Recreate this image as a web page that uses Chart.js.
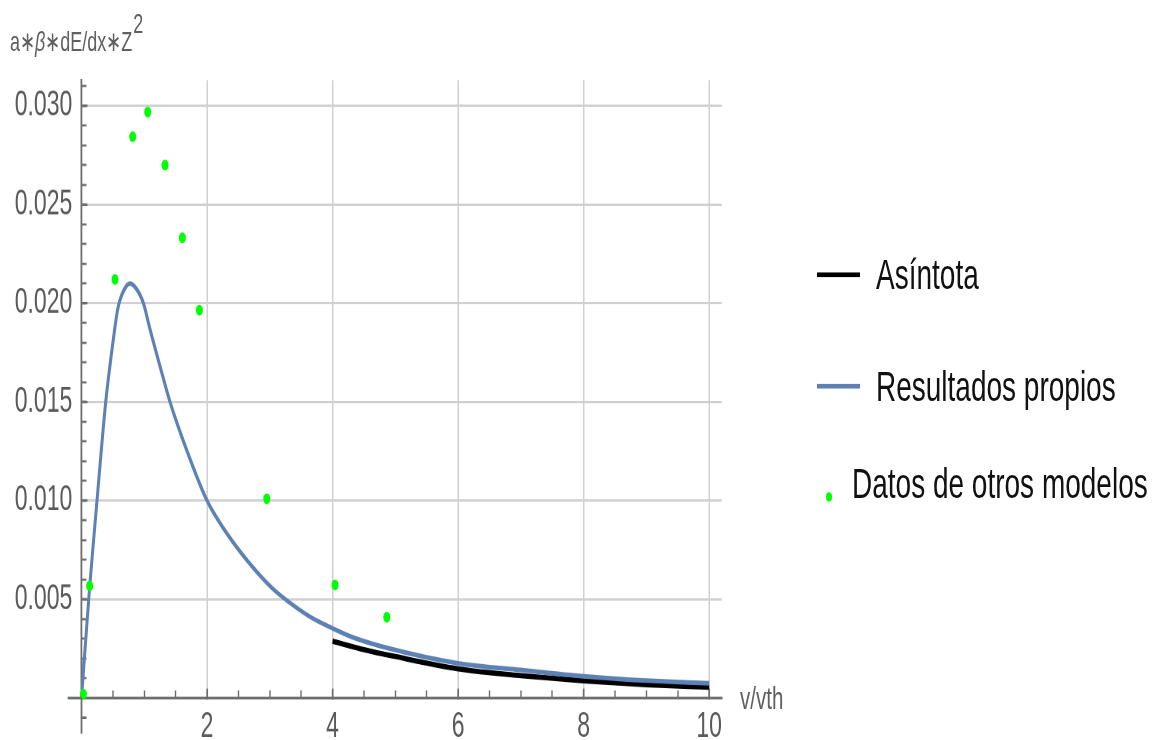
<!DOCTYPE html>
<html>
<head>
<meta charset="utf-8">
<script src="https://cdn.jsdelivr.net/npm/chart.js"></script>
<style>
  html, body { margin: 0; background: #fff; width: 1160px; height: 740px; }
  #aussen { position: relative; width: 1160px; height: 740px; overflow: hidden; }
  /* the reference picture is stretched vertically, so the whole drawing is too */
  #wrap { position: absolute; left: 0; top: 0; width: 1160px; height: 478px; transform: scaleY(1.548); transform-origin: 0 0; font-family: 'Liberation Sans', Arial, sans-serif; }
  #grafik { position: absolute; left: 0; top: 0; }
  .achse { position: absolute; color: #606060; white-space: nowrap; }
  .legende { position: absolute; left: 817px; font-size: 28px; line-height: 32px; color: #111; white-space: nowrap; }
  .legende span.linie { display: inline-block; width: 43px; height: 3px; vertical-align: middle; margin-right: 16px; position: relative; top: -2px; }
  .legende span.punkt { display: inline-block; width: 6px; height: 6px; border-radius: 50%; background: #00ff00; margin: 0 20px 0 9px; position: relative; top: 6px; vertical-align: middle; }
</style>
</head>
<body>
<div id="aussen">
<div id="wrap">
  <canvas id="grafik" width="1160" height="478"></canvas>
  <div class="achse" style="left:10px; top:17px; font-size:18px; line-height:20px;">a∗<i>β</i>∗dE/dx∗Z<span style="position:relative; top:-12px; font-size:18px; margin-left:1px;">2</span></div>
  <div class="achse" style="left:740px; top:441px; font-size:20.5px; line-height:20px;">v/vth</div>
  <div class="legende" style="top:162px;"><span class="linie" style="background:#000;"></span>Asíntota</div>
  <div class="legende" style="top:234px;"><span class="linie" style="background:#5E81B5;"></span>Resultados propios</div>
  <div class="legende" style="top:297px;"><span class="punkt"></span>Datos de otros modelos</div>
</div>
</div>
<script>
// Eigene Resultate (blaue Kurve)
const propiosX = [0, 0.115, 0.247, 0.386, 0.46, 0.534, 0.577, 0.667, 0.774, 0.88, 0.986, 1.09, 1.26, 1.41, 1.73, 2.0, 2.26, 2.53, 2.79, 3.06, 3.33, 3.65, 4.0, 4.3, 4.89, 6.0, 7.0, 8.0, 9.0, 10.0];
const propiosY = [0, 0.005, 0.010, 0.015, 0.0170, 0.0188, 0.0197, 0.0206, 0.0210, 0.0207, 0.0200, 0.0187, 0.0167, 0.0150, 0.0121, 0.0100, 0.0086, 0.0074, 0.0064, 0.0055, 0.0048, 0.0041, 0.00353, 0.0031, 0.00252, 0.00176, 0.00142, 0.0011, 0.00088, 0.00075];

// Asymptote (schwarz), nur ab v/vth = 4
const asintotaX = [4.0, 4.5, 5.0, 6.0, 7.0, 8.0, 9.0, 10.0];
const asintotaY = [0.00288, 0.00245, 0.0021, 0.00148, 0.00113, 0.00087, 0.00067, 0.00055];

// Daten anderer Modelle (grüne Punkte)
const otrosX = [0.03, 0.13, 0.534, 0.816, 1.055, 1.331, 1.607, 1.878, 2.952, 4.04, 4.864];
const otrosY = [0.0002, 0.00568, 0.0212, 0.02843, 0.02968, 0.02699, 0.02331, 0.01964, 0.01009, 0.00573, 0.00409];

// Achsen
const xMajorTicks = [2, 4, 6, 8, 10];
const xMinorTicks = [0.5, 1, 1.5, 2, 2.5, 3, 3.5, 4, 4.5, 5, 5.5, 6, 6.5, 7, 7.5, 8, 8.5, 9, 9.5, 10];
const yMajorTicks = [0.005, 0.010, 0.015, 0.020, 0.025, 0.030];
const yMinorTicks = [0.001, 0.002, 0.003, 0.004, 0.005, 0.006, 0.007, 0.008, 0.009, 0.010, 0.011, 0.012, 0.013, 0.014, 0.015, 0.016, 0.017, 0.018, 0.019, 0.020, 0.021, 0.022, 0.023, 0.024, 0.025, 0.026, 0.027, 0.028, 0.029, 0.030, 0.031];
const xMin = 0, xMax = 10.2, yMin = 0, yMax = 0.0313;
const xAxisFrom = -0.22;   // Achse ragt links etwas über 0 hinaus
const yAxisFrom = -0.0018; // und unten auch

const axisColor = '#6e6e6e';
const gridColor = '#d0d0d0';
const tickFont = { family: "'Liberation Sans', Arial, sans-serif", size: 23 };

function toPoints(xs, ys) {
    return xs.map((x, i) => ({ x: x, y: ys[i] }));
}

function fixedTicks(list) {
    return scale => { scale.ticks = list.map(v => ({ value: v })); };
}

// kleines Stück Achse unterhalb/links vom Ursprung
const axisStubs = {
    id: 'axisStubs',
    afterDraw(chart) {
        const { ctx, scales } = chart;
        const x0 = scales.x.getPixelForValue(0);
        const y0 = scales.y.getPixelForValue(0);
        const yt = scales.y.getPixelForValue(-0.001);
        ctx.save();
        ctx.strokeStyle = axisColor;
        ctx.lineWidth = 1.8;
        ctx.beginPath();
        ctx.moveTo(scales.x.getPixelForValue(xAxisFrom), y0);
        ctx.lineTo(x0, y0);
        ctx.moveTo(x0, y0);
        ctx.lineTo(x0, scales.y.getPixelForValue(yAxisFrom));
        ctx.moveTo(x0, yt);
        ctx.lineTo(x0 + 5, yt);
        ctx.stroke();
        ctx.restore();
    }
};

const ctx = document.getElementById('grafik').getContext('2d');
const chart = new Chart(ctx, {
    type: 'scatter',
    data: {
        datasets: [
            {
                label: 'Datos de otros modelos',
                data: toPoints(otrosX, otrosY),
                showLine: false,
                pointRadius: 3.5,
                pointBorderWidth: 0,
                pointBackgroundColor: '#00ff00',
                pointBorderColor: '#00ff00',
                clip: false,
                order: 0
            },
            {
                label: 'Resultados propios',
                data: toPoints(propiosX, propiosY),
                showLine: true,
                borderColor: '#5E81B5',
                borderWidth: 3,
                pointRadius: 0,
                cubicInterpolationMode: 'monotone',
                clip: false,
                order: 1
            },
            {
                label: 'Asíntota',
                data: toPoints(asintotaX, asintotaY),
                showLine: true,
                borderColor: '#000000',
                borderWidth: 3.4,
                pointRadius: 0,
                cubicInterpolationMode: 'monotone',
                clip: false,
                order: 2
            }
        ]
    },
    options: {
        responsive: false,
        devicePixelRatio: 2,
        animation: false,
        layout: { padding: { left: 81.5, right: 438.3, top: 51.7, bottom: 27.1 } },
        plugins: {
            legend: { display: false },
            tooltip: { enabled: false }
        },
        scales: {
            x: {
                type: 'linear', min: xMin, max: xMax,
                position: { y: 0 },
                afterBuildTicks: fixedTicks(xMajorTicks),
                grid: { color: gridColor, lineWidth: 1.5, tickLength: -7, tickColor: axisColor, tickWidth: 1.6 },
                border: { color: axisColor, width: 1.8 },
                ticks: { font: tickFont, color: '#5a5a5a', padding: 12, autoSkip: false, maxRotation: 0, callback: v => String(v) }
            },
            xMinor: {
                type: 'linear', min: xMin, max: xMax,
                position: { y: 0 },
                afterBuildTicks: fixedTicks(xMinorTicks),
                grid: { drawOnChartArea: false, tickLength: -5, tickColor: axisColor, tickWidth: 1.4 },
                border: { display: false },
                ticks: { display: false, autoSkip: false }
            },
            y: {
                type: 'linear', min: yMin, max: yMax,
                position: { x: 0 },
                afterBuildTicks: fixedTicks(yMajorTicks),
                grid: { color: gridColor, lineWidth: 1.5, tickLength: -7, tickColor: axisColor, tickWidth: 1.6 },
                border: { color: axisColor, width: 1.8 },
                ticks: { font: tickFont, color: '#5a5a5a', autoSkip: false, callback: v => v.toFixed(3) + '\u2009\u2009' }
            },
            yMinor: {
                type: 'linear', min: yMin, max: yMax,
                position: { x: 0 },
                afterBuildTicks: fixedTicks(yMinorTicks),
                grid: { drawOnChartArea: false, tickLength: -5, tickColor: axisColor, tickWidth: 1.4 },
                border: { display: false },
                ticks: { display: false, autoSkip: false }
            }
        }
    },
    plugins: [axisStubs]
});
</script>
</body>
</html>
